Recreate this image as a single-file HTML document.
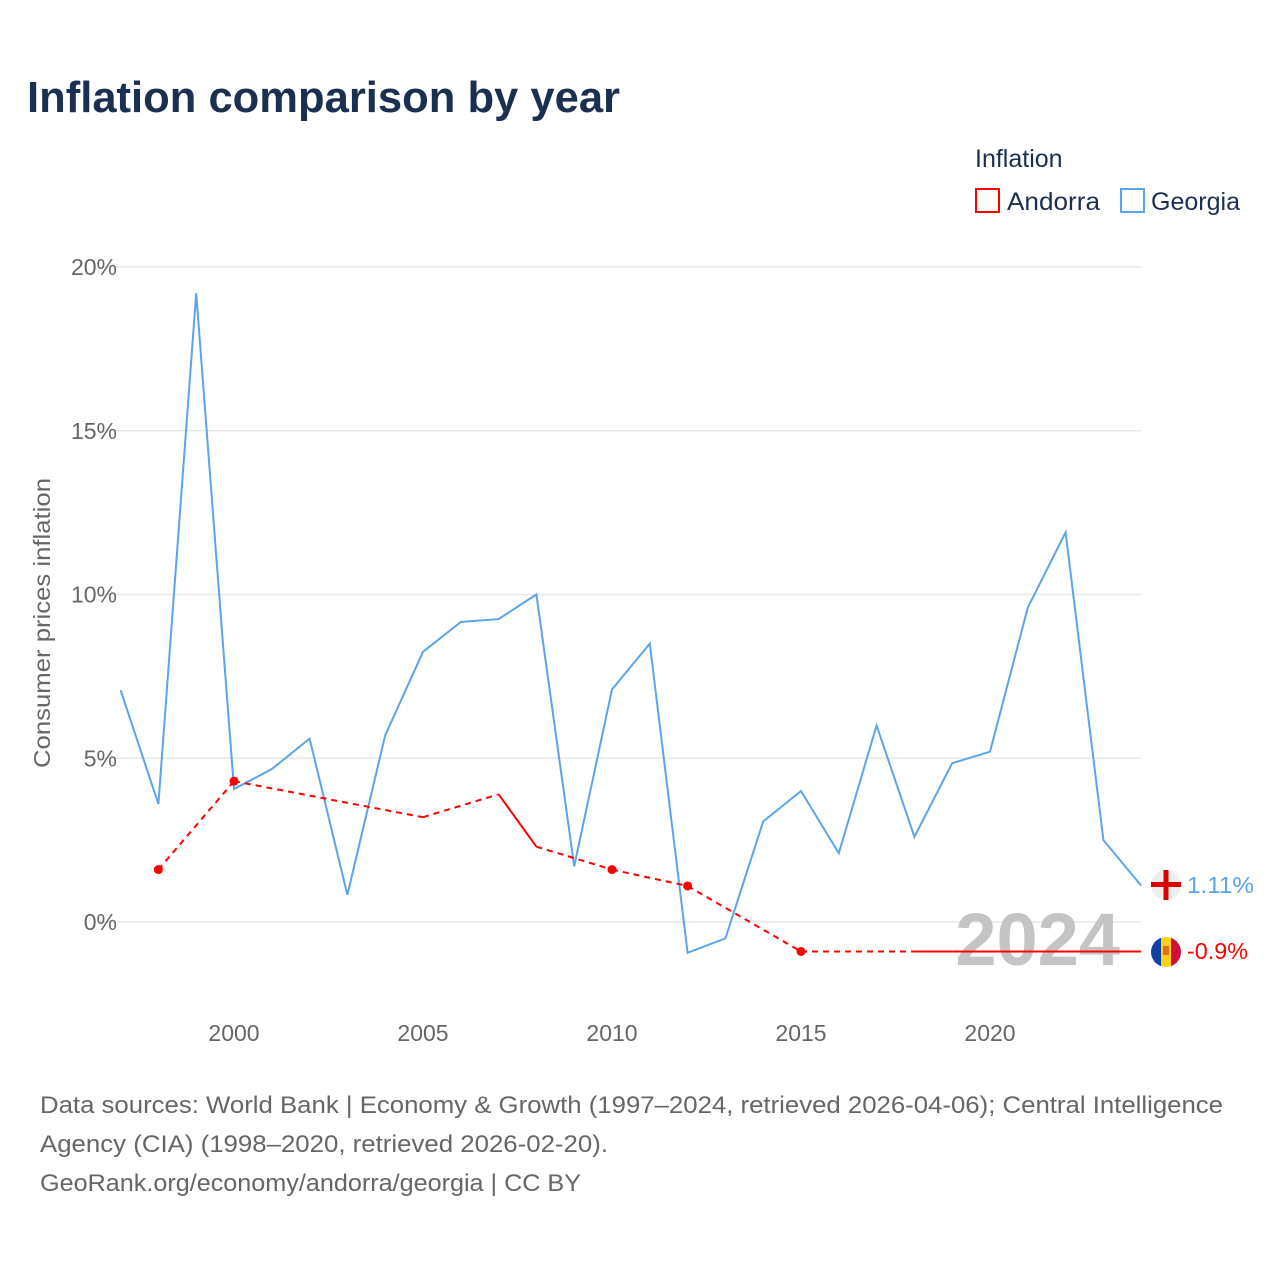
<!DOCTYPE html>
<html><head><meta charset="utf-8"><style>
body{margin:0;background:#fff;font-family:"Liberation Sans",sans-serif;}
#wrap{position:relative;width:1280px;height:1280px;}
</style></head><body><div id="wrap">
<svg id="chart" width="1280" height="1280" font-family="Liberation Sans, sans-serif">
<text x="27" y="112" font-size="44" font-weight="bold" fill="#1b3050" textLength="593" lengthAdjust="spacingAndGlyphs">Inflation comparison by year</text>
<text x="975" y="167" font-size="25" fill="#1b3050">Inflation</text>
<g><rect x="976" y="189" width="23" height="23" fill="none" stroke="#f00" stroke-width="2"/><text x="1007" y="210" font-size="25" fill="#1b3050" textLength="93" lengthAdjust="spacingAndGlyphs">Andorra</text></g>
<g><rect x="1121" y="189" width="23" height="23" fill="none" stroke="#5aa5ea" stroke-width="2"/><text x="1151" y="210" font-size="25" fill="#1b3050" textLength="89" lengthAdjust="spacingAndGlyphs">Georgia</text></g>
<text transform="translate(50,623) rotate(-90)" text-anchor="middle" font-size="23" fill="#666" textLength="290" lengthAdjust="spacingAndGlyphs">Consumer prices inflation</text>
<g id="grid"></g><g id="xt"></g>
<text x="1120" y="965" text-anchor="end" font-size="74" font-weight="bold" fill="#c4c4c4">2024</text>
<g id="series"></g>
<g><circle cx="1166" cy="885" r="15" fill="#eee"/><rect x="1151" y="882" width="30" height="5" fill="#d00"/><rect x="1163.5" y="870" width="5" height="30" fill="#d00"/></g>
<g><clipPath id="cp"><circle cx="1166" cy="952" r="15"/></clipPath><g clip-path="url(#cp)"><rect x="1151" y="937" width="10" height="30" fill="#1040a0"/><rect x="1161" y="937" width="10" height="30" fill="#fcd116"/><rect x="1171" y="937" width="10" height="30" fill="#d0103a"/><rect x="1163" y="946" width="6" height="9" fill="#e07020"/></g></g>
<text x="1187" y="893" font-size="23" fill="#5aa5ea" textLength="67" lengthAdjust="spacingAndGlyphs">1.11%</text>
<text x="1187" y="959" font-size="23" fill="#f00" textLength="61" lengthAdjust="spacingAndGlyphs">-0.9%</text>
<g font-size="24" fill="#666">
<text x="40" y="1113" textLength="1183" lengthAdjust="spacingAndGlyphs">Data sources: World Bank | Economy &amp; Growth (1997–2024, retrieved 2026-04-06); Central Intelligence</text>
<text x="40" y="1152" textLength="568" lengthAdjust="spacingAndGlyphs">Agency (CIA) (1998–2020, retrieved 2026-02-20).</text>
<text x="40" y="1191" textLength="541" lengthAdjust="spacingAndGlyphs">GeoRank.org/economy/andorra/georgia | CC BY</text></g>
</svg></div>
<script>
const years=[1997,1998,1999,2000,2001,2002,2003,2004,2005,2006,2007,2008,2009,2010,2011,2012,2013,2014,2015,2016,2017,2018,2019,2020,2021,2022,2023,2024];
const georgia=[7.08,3.6,19.2,4.06,4.67,5.6,0.83,5.7,8.25,9.16,9.25,10.0,1.7,7.1,8.5,-0.94,-0.5,3.07,4.0,2.1,6.0,2.6,4.85,5.2,9.6,11.9,2.5,1.11];
const andorra=[null,1.6,null,4.3,null,null,null,null,3.2,null,3.9,2.3,null,1.6,null,1.1,null,null,-0.9,null,null,-0.9,-0.9,-0.9,-0.9,-0.9,-0.9,-0.9];
const andorraDotYears=[1998,2000,2010,2012,2015];
const yTicks=[0,5,10,15,20];
const xTicks=[2000,2005,2010,2015,2020];
const NS="http://www.w3.org/2000/svg";
const X=y=>120.6+(y-1997)*37.8, Y=v=>922-v*32.75;
function mk(t,a,p){const e=document.createElementNS(NS,t);for(const k in a)e.setAttribute(k,a[k]);p.appendChild(e);return e;}
const grid=document.getElementById('grid'),xt=document.getElementById('xt'),s=document.getElementById('series');
yTicks.forEach(v=>{const l=mk('line',{x1:100,x2:1141,y1:Y(v),y2:Y(v),stroke:'#e8e8e8','stroke-width':1.5},grid);

const t=mk('text',{x:117,y:Y(v)+8,'text-anchor':'end','font-size':23,fill:'#666'},grid);t.textContent=v+'%';
});
xTicks.forEach(v=>{const t=mk('text',{x:X(v),y:1041,'text-anchor':'middle','font-size':23,fill:'#666'},xt);t.textContent=v;
});
const gl=mk('polyline',{points:years.map((y,i)=>X(y)+','+Y(georgia[i])).join(' '),fill:'none',stroke:'#5aa5ea','stroke-width':2},s);

const idx=andorra.map((v,i)=>v==null?-1:i).filter(i=>i>=0);
for(let k=0;k<idx.length-1;k++){const a=idx[k],b=idx[k+1];
const l=mk('line',{x1:X(years[a]),y1:Y(andorra[a]),x2:X(years[b]),y2:Y(andorra[b]),stroke:'#f00','stroke-width':2},s);
if(b-a>1)l.setAttribute('stroke-dasharray','6,5');
}
idx.forEach(i=>{if(andorraDotYears.includes(years[i])){
const c=mk('circle',{cx:X(years[i]),cy:Y(andorra[i]),r:4.5,fill:'#f00'},s);
}});
</script></body></html>
